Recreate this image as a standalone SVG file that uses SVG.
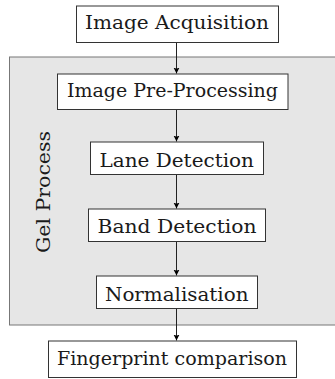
<svg xmlns="http://www.w3.org/2000/svg" width="335" height="379" viewBox="0 0 335 379">
<defs>
<marker id="ah" markerWidth="6" markerHeight="8" refX="6" refY="3" orient="auto" markerUnits="userSpaceOnUse">
<path d="M0,0 L6,3 L0,6 L1.2,3 Z" fill="#000"/>
</marker>
<style>
.box{fill:#fff;stroke:#333;stroke-width:1}
.t{font-family:'DejaVu Serif','Liberation Serif',serif;font-size:19px;fill:#1a1a1a}
.c{stroke:#222;stroke-width:1;fill:none;marker-end:url(#ah)}
</style>
</defs>
<rect width="335" height="379" fill="#fff"/>
<g id="gel-process">
<rect x="9.5" y="57" width="326" height="268" fill="#e6e6e6" stroke="#777" stroke-width="1"/>
<text class="t" transform="translate(49.5,253) rotate(-90)" textLength="122" lengthAdjust="spacingAndGlyphs">Gel Process</text>
</g>
<g id="connectors">
<line class="c" x1="176.5" y1="42.5" x2="176.5" y2="73.5"/>
<line class="c" x1="176.5" y1="109.5" x2="176.5" y2="141.5"/>
<line class="c" x1="176.5" y1="174.5" x2="176.5" y2="208.5"/>
<line class="c" x1="176.5" y1="241.5" x2="176.5" y2="275.5"/>
<line class="c" x1="176.5" y1="308.5" x2="176.5" y2="340.5"/>
</g>
<g id="image-acquisition">
<rect class="box" x="76.5" y="6" width="202" height="36.5"/>
<text class="t" x="85" y="28.5" textLength="184" lengthAdjust="spacingAndGlyphs">Image Acquisition</text>
</g>
<g id="image-pre-processing">
<rect class="box" x="57.5" y="74" width="230.5" height="35.5"/>
<text class="t" x="67" y="96.7" textLength="211" lengthAdjust="spacingAndGlyphs">Image Pre-Processing</text>
</g>
<g id="lane-detection">
<rect class="box" x="90.5" y="142" width="173" height="32.5"/>
<text class="t" x="99.5" y="166.5" textLength="154.5" lengthAdjust="spacingAndGlyphs">Lane Detection</text>
</g>
<g id="band-detection">
<rect class="box" x="88.5" y="209" width="177" height="32.5"/>
<text class="t" x="97.5" y="233.3" textLength="159" lengthAdjust="spacingAndGlyphs">Band Detection</text>
</g>
<g id="normalisation">
<rect class="box" x="96.5" y="276" width="161" height="32.5"/>
<text class="t" x="105" y="301" textLength="143.5" lengthAdjust="spacingAndGlyphs">Normalisation</text>
</g>
<g id="fingerprint-comparison">
<rect class="box" x="48.5" y="341" width="248" height="36.5"/>
<text class="t" x="57" y="365" textLength="230" lengthAdjust="spacingAndGlyphs">Fingerprint comparison</text>
</g>
</svg>
